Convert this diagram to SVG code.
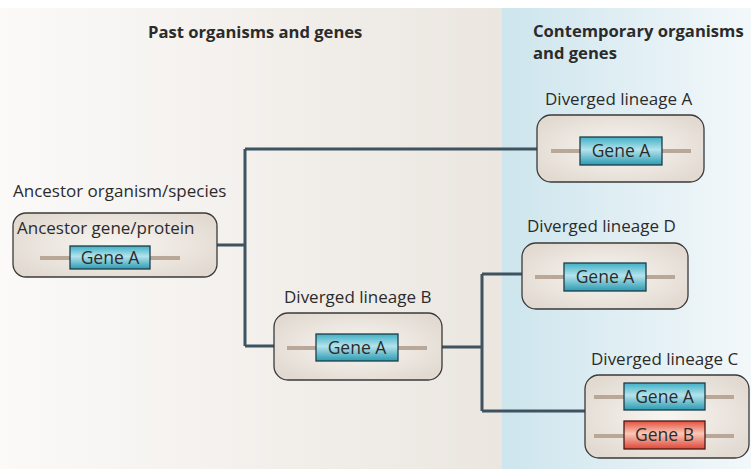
<svg xmlns="http://www.w3.org/2000/svg" width="751" height="469" viewBox="0 0 751 469">
<defs>
<linearGradient id="bgL" x1="0" y1="0" x2="1" y2="0"><stop offset="0" stop-color="#fbfaf9"/><stop offset="1" stop-color="#ebe6e0"/></linearGradient>
<linearGradient id="bgR" x1="0" y1="0" x2="1" y2="0"><stop offset="0" stop-color="#cde5ed"/><stop offset="1" stop-color="#f3f8fa"/></linearGradient>
<radialGradient id="boxG" cx="0.5" cy="0.5" r="0.6"><stop offset="0" stop-color="#f8f6f2"/><stop offset="1" stop-color="#e2dad1"/></radialGradient>
<linearGradient id="geneA" x1="0" y1="0" x2="0" y2="1"><stop offset="0" stop-color="#3fb0c6"/><stop offset="0.45" stop-color="#b4e3ec"/><stop offset="1" stop-color="#2b9bb2"/></linearGradient>
<linearGradient id="geneB" x1="0" y1="0" x2="0" y2="1"><stop offset="0" stop-color="#e4503d"/><stop offset="0.45" stop-color="#f9c8b8"/><stop offset="1" stop-color="#de4636"/></linearGradient>
</defs>
<style>
text{font-family:"Open Sans","Liberation Sans",sans-serif;fill:#2b2b2b}
.t{font-size:17px}
.h{font-size:16.6px;font-weight:bold}
.g{font-size:17.5px;text-anchor:middle}
.box{fill:url(#boxG);stroke:#3a3a3a;stroke-width:1.3}
.bar{stroke:#b9a898;stroke-width:4}
.ga{fill:url(#geneA);stroke:#1e3c48;stroke-width:1.3}
.gb{fill:url(#geneB);stroke:#4a1a14;stroke-width:1.3}
.c{fill:none;stroke:#3e5361;stroke-width:3}
</style>
<rect x="0" y="8" width="502" height="461" fill="url(#bgL)"/>
<rect x="502" y="8" width="249" height="461" fill="url(#bgR)"/>
<text class="h" x="148" y="38">Past organisms and genes</text>
<text class="h" x="533" y="37">Contemporary organisms</text>
<text class="h" x="533" y="59">and genes</text>
<g id="connectors">
<path class="c" d="M217,245 H245 M245,149 V346 M245,149 H537 M245,346 H274"/>
<path class="c" d="M442,347 H482 M482,274 V411 M482,274 H522 M482,411 H585"/>
</g>
<g id="ancestor">
<text class="t" x="13" y="197">Ancestor organism/species</text>
<rect class="box" x="13" y="213" width="204" height="64" rx="13"/>
<text class="t" x="17" y="234">Ancestor gene/protein</text>
<line class="bar" x1="40" y1="258" x2="180" y2="258"/>
<rect class="ga" x="70" y="246" width="80" height="23"/>
<text class="g" x="110" y="264">Gene A</text>
</g>
<g id="lineageB">
<text class="t" x="284" y="303">Diverged lineage B</text>
<rect class="box" x="274" y="313" width="168" height="67" rx="14"/>
<line class="bar" x1="287" y1="348" x2="427" y2="348"/>
<rect class="ga" x="316" y="334" width="82" height="27"/>
<text class="g" x="357" y="354">Gene A</text>
</g>
<g id="lineageA">
<text class="t" x="545" y="105">Diverged lineage A</text>
<rect class="box" x="537" y="115" width="167" height="67" rx="14"/>
<line class="bar" x1="551" y1="151" x2="691" y2="151"/>
<rect class="ga" x="580" y="137" width="82" height="28"/>
<text class="g" x="621" y="157">Gene A</text>
</g>
<g id="lineageD">
<text class="t" x="527" y="232">Diverged lineage D</text>
<rect class="box" x="522" y="243" width="166" height="66" rx="14"/>
<line class="bar" x1="535" y1="277" x2="675" y2="277"/>
<rect class="ga" x="564" y="263" width="82" height="28"/>
<text class="g" x="605" y="283">Gene A</text>
</g>
<g id="lineageC">
<text class="t" x="591" y="365">Diverged lineage C</text>
<rect class="box" x="585" y="375" width="164" height="83" rx="14"/>
<line class="bar" x1="594" y1="397" x2="734" y2="397"/>
<rect class="ga" x="624" y="383" width="81" height="27"/>
<text class="g" x="664.5" y="403">Gene A</text>
<line class="bar" x1="594" y1="436" x2="734" y2="436"/>
<rect class="gb" x="624" y="421" width="81" height="28"/>
<text class="g" x="664.5" y="441">Gene B</text>
</g>
</svg>
